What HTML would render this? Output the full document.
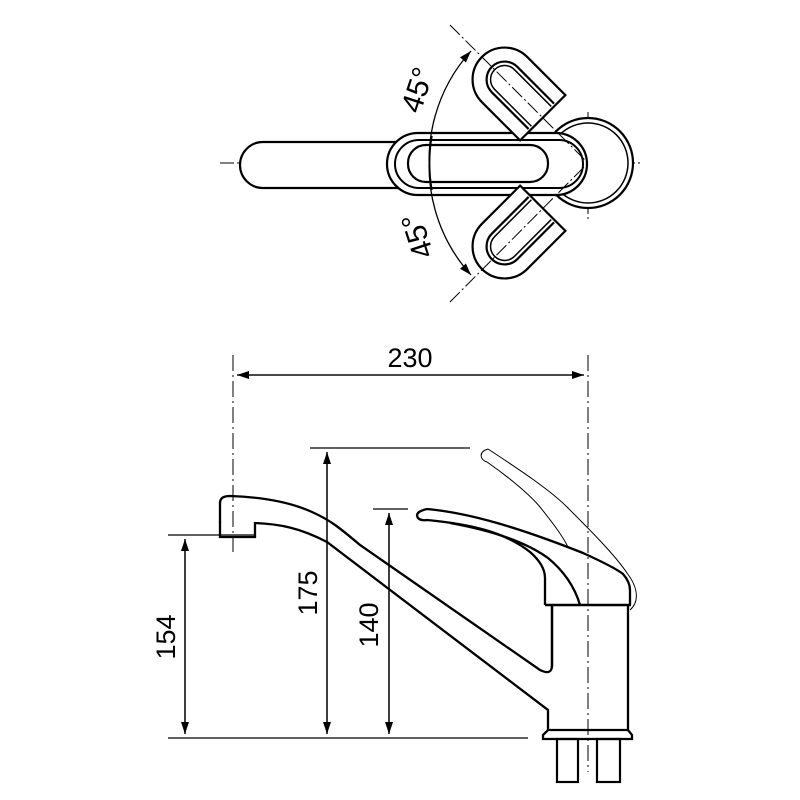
<!DOCTYPE html>
<html><head><meta charset="utf-8"><style>html,body{margin:0;padding:0;background:#fff}svg{display:block}</style></head>
<body>
<svg width="800" height="800" viewBox="0 0 800 800" xmlns="http://www.w3.org/2000/svg" font-family="Liberation Sans, sans-serif">
<defs>
<marker id="a" markerWidth="12" markerHeight="8" refX="12" refY="4" orient="auto" markerUnits="userSpaceOnUse"><path d="M0,0 L12,4 L0,8 z" fill="#000"/></marker>
</defs>
<g fill="none" stroke="#000">
<!-- TOP VIEW -->
<line x1="220" y1="163" x2="640" y2="163" stroke-width="1" stroke-dasharray="14,3,2,3"/>
<line x1="588" y1="112" x2="588" y2="220" stroke-width="1" stroke-dasharray="14,3,2,3"/>
<circle cx="588" cy="163" r="45" stroke-width="2.2" fill="#fff"/>
<circle cx="588" cy="163" r="40" stroke-width="1.5"/>
<rect x="240" y="142" width="200" height="46" rx="23" stroke-width="2.2" fill="#fff"/>
<rect x="387" y="133" width="200" height="62" rx="31" stroke-width="2.2" fill="#fff"/>
<rect x="395" y="140" width="188" height="48" rx="24" stroke-width="2"/>
<rect x="408" y="145" width="140" height="37" rx="18" stroke-width="2.2"/>
<g transform="translate(588,163) rotate(-135)">
<path d="M64,-32 L118,-32 A32,32 0 0 1 118,32 L64,32 Z" stroke-width="2.2" fill="#fff"/>
<path d="M66,-18 L118,-18 A18,18 0 0 1 118,18 L66,18" stroke-width="2.2"/>
<path d="M66,-14 L118,-14 A14,14 0 0 1 118,14 L66,14" stroke-width="1.5"/>
</g>
<g transform="translate(588,163) rotate(135)">
<path d="M64,-32 L118,-32 A32,32 0 0 1 118,32 L64,32 Z" stroke-width="2.2" fill="#fff"/>
<path d="M66,-18 L118,-18 A18,18 0 0 1 118,18 L66,18" stroke-width="2.2"/>
<path d="M66,-14 L118,-14 A14,14 0 0 1 118,14 L66,14" stroke-width="1.5"/>
</g>
<line x1="450" y1="25" x2="588" y2="163" stroke-width="1" stroke-dasharray="14,3,2,3"/>
<line x1="450" y1="302" x2="588" y2="163" stroke-width="1" stroke-dasharray="14,3,2,3"/>
<path d="M432,190 A162,162 0 0 1 471,51" stroke-width="1.3" marker-end="url(#a)"/>
<path d="M432,136 A162,162 0 0 0 471,275" stroke-width="1.3" marker-end="url(#a)"/>
<path d="M432,136 A162,162 0 0 0 432,190" stroke-width="1.3"/>

<!-- SIDE VIEW -->
<line x1="233" y1="355" x2="233" y2="552" stroke-width="1" stroke-dasharray="16,4,2,4"/>
<line x1="588" y1="355" x2="588" y2="772" stroke-width="1" stroke-dasharray="16,4,2,4"/>
<line x1="237" y1="375" x2="584" y2="375" stroke-width="1.3" marker-end="url(#a)"/>
<line x1="584" y1="375" x2="237" y2="375" stroke-width="1.3" marker-end="url(#a)"/>
<line x1="310" y1="448" x2="470" y2="448" stroke-width="1.3"/>
<line x1="373" y1="509" x2="408" y2="509" stroke-width="1.3"/>
<line x1="168" y1="535" x2="255" y2="535" stroke-width="1.3"/>
<line x1="168" y1="738" x2="528" y2="738" stroke-width="1.3"/>
<line x1="327" y1="452" x2="327" y2="734" stroke-width="1.3" marker-end="url(#a)"/>
<line x1="327" y1="734" x2="327" y2="452" stroke-width="1.3" marker-end="url(#a)"/>
<line x1="389" y1="513" x2="389" y2="734" stroke-width="1.3" marker-end="url(#a)"/>
<line x1="389" y1="734" x2="389" y2="513" stroke-width="1.3" marker-end="url(#a)"/>
<line x1="185" y1="539" x2="185" y2="734" stroke-width="1.3" marker-end="url(#a)"/>
<line x1="185" y1="734" x2="185" y2="539" stroke-width="1.3" marker-end="url(#a)"/>

<!-- ghost handle -->
<path d="M488,449 C520,470 550,490 567,507 C590,530 615,555 627,573 C640,590 638,603 630,610" stroke-width="1"/>
<path d="M488,449 C478,452 480,460 487,462 C510,478 530,495 540,507 C552,522 562,535 568,547" stroke-width="1"/>

<!-- spout -->
<path d="M220,523 L220,503 Q220,496 230,496 C260,497 290,502 312,512 C330,520 340,528 360,545 L540,670 Q552,676 552,665 L552,605" stroke-width="2.3"/>
<path d="M255,523 C280,524 300,528 327,542 L548,710 L548,730" stroke-width="2.3"/>
<path d="M220,522 L220,537 L255,537 L255,522" stroke-width="2.3"/>
<!-- handle -->
<path d="M427,509 C470,513 520,528 583,553 C605,563 618,570 623,574 Q630,582 630,590 L630,605" stroke-width="2.3"/>
<path d="M427,509 Q414,512 418,518 Q421,521 427,520 C470,524 505,532 530,552 Q545,565 545,578 L545,605" stroke-width="2.3"/>
<path d="M450,523 C500,532 530,545 548,558 C565,572 575,588 580,605" stroke-width="2.3"/>
<!-- body -->
<line x1="545" y1="605" x2="631" y2="605" stroke-width="2.5"/>
<path d="M552,605 L552,667 M628,605 L628,730" stroke-width="2.3"/>
<path d="M548,730 L628,730 L632,735 L632,739 L543,739 L543,735 Z" stroke-width="2.3"/>
<rect x="557" y="739" width="21" height="43" stroke-width="2.2"/>
<rect x="597" y="739" width="23" height="43" stroke-width="2.2"/>
</g>
<g fill="#000" font-size="27">
<text x="410" y="367" text-anchor="middle">230</text>
<text transform="translate(175,637) rotate(-90)" text-anchor="middle">154</text>
<text transform="translate(317,593) rotate(-90)" text-anchor="middle">175</text>
<text transform="translate(378,625) rotate(-90)" text-anchor="middle">140</text>
<text transform="translate(427,93) rotate(-72)" text-anchor="middle" font-size="30">45°</text>
<text transform="translate(427,233) rotate(-108)" text-anchor="middle" font-size="30">45°</text>
</g>
</svg>
</body></html>
